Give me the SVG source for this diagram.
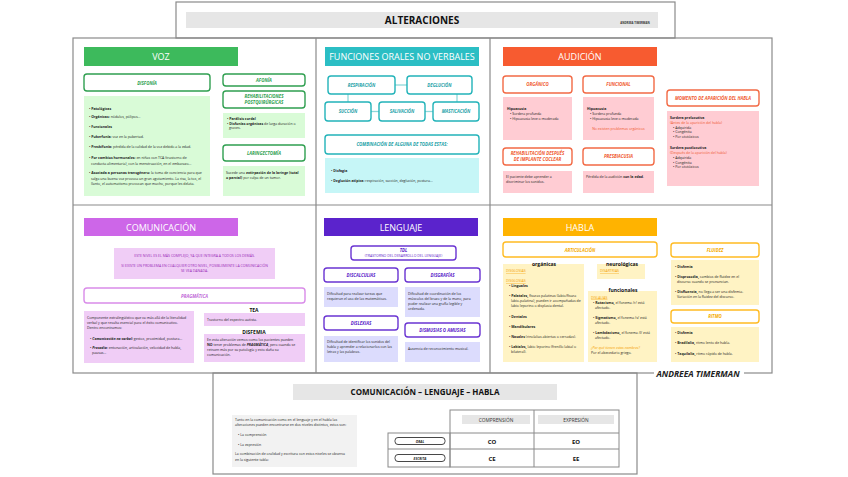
<svg xmlns="http://www.w3.org/2000/svg" width="848" height="477" viewBox="0 0 848 477">
<style>
text{font-family:"Open Sans","Liberation Sans",sans-serif}
.frame{fill:none;stroke:#8a8a8a;stroke-width:1.2}
.hd{fill:#fff;font-size:9px;text-anchor:middle}
.lb{font-size:4.4px;font-weight:bold;font-style:italic;text-anchor:middle}
.t{font-size:3.5px;fill:#222}
.b{font-weight:bold}
.c{text-anchor:middle}
.box{fill:#fff;stroke-width:1.4}
.g{stroke:#2f9f50}.gf{fill:#2f9f50}.gc{fill:#d9fbd7}
.tl{stroke:#22b3b9}.tlf{fill:#1ea2a8}.tlc{fill:#c6f6f7}
.o{stroke:#f26a45}.of{fill:#f05a30}.oc{fill:#ffccd3}
.p{stroke:#d98ce9}.pf{fill:#c16ad8}.pc{fill:#f0cdf6}
.v{stroke:#6a34d2}.vf{fill:#5b24c9}.vc{fill:#dcdcfd}
.y{stroke:#ffbb22}.yf{fill:#f5ab00}.yc{fill:#fff3c4}
.u{text-decoration:underline}
.conn{stroke:#8fd8da;stroke-width:1.3;fill:none}
</style>

<g id="title">
<rect x="176" y="2" width="499" height="36" fill="#fff" class="frame"/>
<rect x="186" y="12" width="472" height="16" fill="#e6e6e6"/>
<text x="422" y="24" font-size="10" font-weight="bold" text-anchor="middle" fill="#111">ALTERACIONES</text>
<text x="635" y="24" font-size="2.8" font-weight="bold" text-anchor="middle" fill="#333">ANDREEA TIMERMAN</text>
</g>

<g id="frame">
<rect x="73" y="38" width="699" height="335" class="frame"/>
<line x1="316" y1="38" x2="316" y2="373" class="frame"/>
<line x1="490" y1="38" x2="490" y2="373" class="frame"/>
<line x1="73" y1="205" x2="772" y2="205" class="frame"/>
<rect x="654" y="368" width="90" height="10" fill="#fff"/>
<text x="698" y="376.5" font-size="8.5" font-weight="bold" font-style="italic" text-anchor="middle" fill="#222">ANDREEA TIMERMAN</text>
</g>

<!-- VOZ -->
<g id="voz">
<rect x="84" y="47" width="154" height="19" fill="#3dba5c"/>
<text x="161" y="60" class="hd">VOZ</text>
<rect x="84" y="74" width="126" height="17" rx="3" class="box g"/>
<text x="147" y="84.5" class="lb gf">DISFONÍA</text>
<rect x="84" y="96" width="126" height="100" class="gc"/>
<text class="t" x="89" y="110">• <tspan class="b">Patológicas</tspan></text>
<text class="t" x="89" y="118">• <tspan class="b">Orgánicas:</tspan> nódulos, pólipos...</text>
<text class="t" x="89" y="128">• <tspan class="b">Funcionales</tspan></text>
<text class="t" x="89" y="138">• <tspan class="b">Puberfonía:</tspan> voz en la pubertad.</text>
<text class="t" x="89" y="148">• <tspan class="b">Presbifonía:</tspan> pérdida de la calidad de la voz debido a la edad.</text>
<text class="t" x="89" y="159">• <tspan class="b">Por cambios hormonales:</tspan> en niñas con TCA (trastorno de</text>
<text class="t" x="91" y="164.5">conducta alimentaria), con la menstruación, en el embarazo...</text>
<text class="t" x="89" y="174">• <tspan class="b">Asociada a personas transgénero:</tspan> la toma de conciencia para que</text>
<text class="t" x="91" y="179.5">salga una buena voz provoca un gran agotamiento. La risa, la tos, el</text>
<text class="t" x="91" y="185">llanto, el automatismo provocan que mucho, porque les delata.</text>

<rect x="223" y="74" width="82" height="12" rx="3" class="box g"/>
<text x="264" y="81.5" class="lb gf">AFONÍA</text>
<rect x="223" y="91" width="82" height="17" rx="3" class="box g"/>
<text x="264" y="97.8" class="lb gf">REHABILITACIONES</text>
<text x="264" y="103.8" class="lb gf">POSTQUIRÚRGICAS</text>
<rect x="223" y="113" width="82" height="25" class="gc"/>
<text class="t" x="227" y="119.5">• <tspan class="b">Parálisis cordal</tspan></text>
<text class="t" x="227" y="124.5">• <tspan class="b">Disfonías orgánicas</tspan> de larga duración o</text>
<text class="t" x="229" y="129">graves.</text>
<rect x="223" y="145" width="82" height="16" rx="3" class="box g"/>
<text x="264" y="154.5" class="lb gf">LARINGECTOMÍA</text>
<rect x="223" y="166" width="82" height="30" class="gc"/>
<text class="t" x="226" y="174">Sucede una <tspan class="b">extirpación de la laringe (total</tspan></text>
<text class="t" x="226" y="178.5"><tspan class="b">o parcial)</tspan> por culpa de un tumor.</text>
</g>

<!-- FUNCIONES ORALES -->
<g id="connectors">
<line x1="395" y1="85" x2="407" y2="85" class="conn"/>
<line x1="348" y1="94" x2="348" y2="102" class="conn"/>
<line x1="457" y1="94" x2="457" y2="102" class="conn"/>
<line x1="371" y1="111.5" x2="379" y2="111.5" class="conn"/>
<line x1="425" y1="111.5" x2="433" y2="111.5" class="conn"/>
</g>
<g id="funciones">
<rect x="325" y="47" width="154" height="19" fill="#2bbec4"/>
<text x="402" y="59.5" class="hd" font-size="7.8">FUNCIONES ORALES NO VERBALES</text>
<rect x="328" y="76" width="67" height="18" rx="3" class="box tl"/>
<text x="361.5" y="86.5" class="lb tlf" font-size="4">RESPIRACIÓN</text>
<rect x="407" y="76" width="65" height="18" rx="3" class="box tl"/>
<text x="439.5" y="86.5" class="lb tlf" font-size="4">DEGLUCIÓN</text>
<rect x="325" y="102" width="46" height="19" rx="3" class="box tl"/>
<text x="348" y="113" class="lb tlf" font-size="4">SUCCIÓN</text>
<rect x="379" y="102" width="46" height="19" rx="3" class="box tl"/>
<text x="402" y="113" class="lb tlf" font-size="4">SALIVACIÓN</text>
<rect x="433" y="102" width="46" height="19" rx="3" class="box tl"/>
<text x="456" y="113" class="lb tlf" font-size="4">MASTICACIÓN</text>
<rect x="325" y="135" width="154" height="19" rx="3" class="box tl"/>
<text x="402" y="146" class="lb tlf" font-size="4.2">COMBINACIÓN DE ALGUNA DE TODAS ESTAS:</text>
<rect x="325" y="158" width="154" height="35" class="tlc"/>
<text class="t" x="331" y="171.5">• <tspan class="b">Disfagia</tspan></text>
<text class="t" x="331" y="181.5">• <tspan class="b">Deglución atípica:</tspan> respiración, succión, deglución, postura...</text>
</g>

<!-- AUDICION -->
<g id="audicion">
<rect x="503" y="47" width="154" height="19" fill="#f75b30"/>
<text x="580" y="60" class="hd">AUDICIÓN</text>
<rect x="503" y="76" width="69" height="17" rx="3" class="box o"/>
<text x="537.5" y="86" class="lb of" font-style="normal">ORGÁNICO</text>
<rect x="583" y="76" width="71" height="17" rx="3" class="box o"/>
<text x="618.5" y="86" class="lb of">FUNCIONAL</text>
<rect x="503" y="97" width="69" height="43" class="oc"/>
<text class="t b" x="507" y="110">Hipoacusia</text>
<text class="t" x="510" y="115">• Sordera profunda</text>
<text class="t" x="510" y="119.5">• Hipoacusia leve o moderada</text>
<rect x="583" y="97" width="71" height="43" class="oc"/>
<text class="t b" x="587" y="110">Hipoacusia</text>
<text class="t" x="590" y="115">• Sordera profunda</text>
<text class="t" x="590" y="119.5">• Hipoacusia leve o moderada</text>
<text class="t c" x="618.5" y="130" fill="#f05a30" style="fill:#f05a30">No existen problemas orgánicos</text>
<rect x="503" y="148" width="69" height="17" rx="3" class="box o"/>
<text x="537.5" y="154.5" class="lb of" font-size="4.1">REHABILITACIÓN DESPUÉS</text>
<text x="537.5" y="160.5" class="lb of" font-size="4.1">DE IMPLANTE COCLEAR</text>
<rect x="583" y="148" width="71" height="17" rx="3" class="box o"/>
<text x="618.5" y="158" class="lb of" font-style="normal">PRESBIACUSIA</text>
<rect x="503" y="171" width="69" height="22" class="oc"/>
<text class="t" x="506" y="178">El paciente debe aprender a</text>
<text class="t" x="506" y="183">discriminar los sonidos.</text>
<rect x="583" y="171" width="71" height="22" class="oc"/>
<text class="t" x="586" y="178">Pérdida de la audición <tspan class="b">con la edad</tspan>.</text>
<rect x="667" y="90" width="92" height="16" rx="3" class="box o"/>
<text x="713" y="99.5" class="lb of" font-size="4.3">MOMENTO DE APARICIÓN DEL HABLA</text>
<rect x="667" y="111" width="92" height="75" class="oc"/>
<text class="t b" x="670" y="118.5">Sordera prelocutiva</text>
<text class="t" x="670" y="123.5" style="fill:#f05a30">(Antes de la aparición del habla)</text>
<text class="t" x="673" y="128.5">• Adquirida</text>
<text class="t" x="673" y="133">• Congénita</text>
<text class="t" x="673" y="137.5">• Por ototóxicos</text>
<text class="t b" x="670" y="149">Sordera postlocutiva</text>
<text class="t" x="670" y="154" style="fill:#f05a30">(Después de la aparición del habla)</text>
<text class="t" x="673" y="159">• Adquirida</text>
<text class="t" x="673" y="163.5">• Congénita</text>
<text class="t" x="673" y="168">• Por ototóxicos</text>
</g>

<!-- COMUNICACION -->
<g id="comunicacion">
<rect x="84" y="218" width="154" height="18" fill="#cd66e8"/>
<text x="161" y="230.5" class="hd">COMUNICACIÓN</text>
<rect x="114" y="248" width="161" height="31" class="pc"/>
<text class="t c" x="194.5" y="256.5" style="fill:#9a2cb8" font-size="3.3">ESTE NIVEL ES EL MÁS COMPLEJO, YA QUE INTEGRA A TODOS LOS DEMÁS.</text>
<text class="t c" x="194.5" y="266.5" style="fill:#9a2cb8" font-size="3.3">SI EXISTE UN PROBLEMA EN CUALQUIER OTRO NIVEL, POSIBLEMENTE LA COMUNICACIÓN</text>
<text class="t c" x="194.5" y="271.5" style="fill:#9a2cb8" font-size="3.3">SE VEA DAÑADA.</text>
<rect x="84" y="288" width="221" height="15" rx="3" class="box p"/>
<text x="194.5" y="297.5" class="lb pf" font-style="normal" font-weight="normal" font-size="4.6">PRAGMÁTICA</text>
<rect x="84" y="311" width="110" height="52" class="pc"/>
<text class="t" x="87" y="318.5">Componente extralingüístico que va más allá de la literalidad</text>
<text class="t" x="87" y="323.5">verbal y que resulta esencial para el éxito comunicativo.</text>
<text class="t" x="87" y="328.5">Dentro encontramos:</text>
<text class="t" x="90" y="339.5">• <tspan class="b" font-style="italic">Comunicación no verbal:</tspan> gestos, proximidad, postura...</text>
<text class="t" x="90" y="348.5">• <tspan class="b" font-style="italic">Prosodia:</tspan> entonación, articulación, velocidad de habla,</text>
<text class="t" x="92" y="353.5">pausas...</text>
<text x="254" y="312" font-size="5" font-weight="bold" text-anchor="middle" fill="#111">TEA</text>
<rect x="204" y="313" width="101" height="13" class="pc"/>
<text class="t" x="207" y="320.5">Trastorno del espectro autista.</text>
<text x="254" y="333.5" font-size="5" font-weight="bold" text-anchor="middle" fill="#111">DISFEMIA</text>
<rect x="204" y="334" width="101" height="28" class="pc"/>
<text class="t" x="207" y="340.5">En esta alteración vemos como los pacientes pueden</text>
<text class="t" x="207" y="345.5"><tspan class="b">NO</tspan> tener problemas de <tspan class="b" font-style="italic">PRAGMÁTICA</tspan>, pero cuando se</text>
<text class="t" x="207" y="350.5">retraen más por su patología y esto daña su</text>
<text class="t" x="207" y="355.5">comunicación.</text>
</g>

<!-- LENGUAJE -->
<g id="lenguaje">
<rect x="324" y="218" width="154" height="18" fill="#5b23cc"/>
<text x="401" y="230.5" class="hd">LENGUAJE</text>
<rect x="351" y="246" width="105" height="14" rx="3" class="box v" stroke-width="1"/>
<text x="403.5" y="251.5" class="lb vf" font-style="normal" font-size="4.2">TDL</text>
<text x="403.5" y="257" class="t c" style="fill:#5b24c9" font-size="3">(TRASTORNO DEL DESARROLLO DEL LENGUAJE)</text>
<rect x="324" y="268" width="74" height="14" rx="3" class="box v"/>
<text x="361" y="276.5" class="lb vf">DISCALCULIAS</text>
<rect x="405" y="268" width="75" height="14" rx="3" class="box v"/>
<text x="442.5" y="276.5" class="lb vf">DISGRAFÍAS</text>
<rect x="324" y="287" width="74" height="20" class="vc"/>
<text class="t" x="327" y="294.5">Dificultad para realizar tareas que</text>
<text class="t" x="327" y="299.5">requieran el uso de las matemáticas.</text>
<rect x="405" y="287" width="75" height="30" class="vc"/>
<text class="t" x="408" y="294.5">Dificultad de coordinación de los</text>
<text class="t" x="408" y="299.5">músculos del brazo y de la mano, para</text>
<text class="t" x="408" y="304.5">poder realizar una grafía legible y</text>
<text class="t" x="408" y="309.5">ordenada.</text>
<rect x="324" y="316" width="74" height="14" rx="3" class="box v"/>
<text x="361" y="324.5" class="lb vf">DISLEXIAS</text>
<rect x="405" y="323" width="75" height="14" rx="3" class="box v"/>
<text x="442.5" y="331.5" class="lb vf">DISMUSIAS O AMUSIAS</text>
<rect x="324" y="336" width="74" height="26" class="vc"/>
<text class="t" x="327" y="343">Dificultad de identificar los sonidos del</text>
<text class="t" x="327" y="348">habla y aprender a relacionarlos con las</text>
<text class="t" x="327" y="353">letras y las palabras.</text>
<rect x="405" y="342" width="75" height="20" class="vc"/>
<text class="t" x="408" y="350">Ausencia de reconocimiento musical.</text>
</g>

<!-- HABLA -->
<g id="habla">
<rect x="503" y="218" width="154" height="18" fill="#ffb300"/>
<text x="580" y="230.5" class="hd">HABLA</text>
<rect x="503" y="242" width="154" height="15" rx="3" class="box y"/>
<text x="580" y="251.5" class="lb yf" font-weight="normal">ARTICULACIÓN</text>
<rect x="503" y="264" width="81" height="98" class="yc"/>
<text x="544" y="266" font-size="5" font-weight="bold" text-anchor="middle" fill="#111">orgánicas</text>
<text class="t u" x="506" y="272" style="fill:#f5a000">DISGLOSIAS</text>
<text class="t u" x="506" y="282" style="fill:#f5a000">DISGLOSIAS</text>
<text class="t" x="509" y="287">• <tspan class="b">Linguales</tspan></text>
<text class="t" x="509" y="296.5">• <tspan class="b">Palatales,</tspan> fisuras palatinas (labio/fisura</text>
<text class="t" x="511" y="301.5">labio-palatina), pueden ir acompañadas de</text>
<text class="t" x="511" y="306.5">labio leporino o displasia dental.</text>
<text class="t" x="509" y="317.5">• <tspan class="b">Dentales</tspan></text>
<text class="t" x="509" y="327.5">• <tspan class="b">Mandibulares</tspan></text>
<text class="t" x="509" y="338">• <tspan class="b">Nasales</tspan> (rinolalias abiertas o cerradas).</text>
<text class="t" x="509" y="348">• <tspan class="b">Labiales,</tspan> labio leporino (frenillo labial o</text>
<text class="t" x="511" y="353">bilateral).</text>
<rect x="597" y="264" width="48" height="15" class="yc"/>
<text x="622" y="266" font-size="5" font-weight="bold" text-anchor="middle" fill="#111">neurológicas</text>
<text class="t u" x="600" y="272" style="fill:#f5a000">DISARTRIAS</text>
<rect x="588" y="291" width="69" height="71" class="yc"/>
<text x="623" y="292" font-size="5" font-weight="bold" text-anchor="middle" fill="#111">funcionales</text>
<text class="t u" x="591" y="298.5" style="fill:#f5a000">DISLALIAS</text>
<text class="t" x="593" y="303.5">• <tspan class="b">Rotacismo,</tspan> el fonema /r/ está</text>
<text class="t" x="595" y="308.5">afectado.</text>
<text class="t" x="593" y="319">• <tspan class="b">Sigmatismo,</tspan> el fonema /s/ está</text>
<text class="t" x="595" y="324">afectado.</text>
<text class="t" x="593" y="333.5">• <tspan class="b">Lambdacismo,</tspan> el fonema /l/ está</text>
<text class="t" x="595" y="338.5">afectado.</text>
<text class="t" x="591" y="348.5" style="fill:#f5a000;font-style:italic">¿Por qué tienen estos nombres?</text>
<text class="t" x="591" y="353.5">Por el abecedario griego.</text>
<rect x="671" y="243" width="88" height="14" rx="3" class="box y"/>
<text x="715" y="251.5" class="lb yf" font-weight="normal">FLUIDEZ</text>
<rect x="671" y="260" width="88" height="45" class="yc"/>
<text class="t" x="675" y="267.5">• <tspan class="b">Disfemia</tspan></text>
<text class="t" x="675" y="277.5">• <tspan class="b">Disprosodia,</tspan> cambios de fluidez en el</text>
<text class="t" x="677" y="282.5">discurso cuando se pronuncian.</text>
<text class="t" x="675" y="292.5">• <tspan class="b">Disfluencia,</tspan> no llega a ser una disfemia.</text>
<text class="t" x="677" y="297.5">Variación en la fluidez del discurso.</text>
<rect x="671" y="310" width="88" height="13" rx="3" class="box y"/>
<text x="715" y="318" class="lb yf" font-weight="normal">RITMO</text>
<rect x="671" y="327" width="88" height="35" class="yc"/>
<text class="t" x="675" y="334">• <tspan class="b">Disfemia</tspan></text>
<text class="t" x="675" y="344">• <tspan class="b">Bradilalia,</tspan> ritmo lento de habla.</text>
<text class="t" x="675" y="354.5">• <tspan class="b">Taquilalia,</tspan> ritmo rápido de habla.</text>
</g>

<!-- BOTTOM -->
<g id="resumen">
<rect x="213" y="373" width="424" height="101" fill="#fff" class="frame"/>
<rect x="293" y="384" width="264" height="16" fill="#e6e6e6"/>
<text x="425" y="395" font-size="8" font-weight="bold" text-anchor="middle" fill="#111">COMUNICACIÓN – LENGUAJE – HABLA</text>
<rect x="232" y="415" width="125" height="52" fill="#f2f2f2"/>
<text class="t" x="235" y="420.5">Tanto en la comunicación como en el lenguaje y en el habla las</text>
<text class="t" x="235" y="426">alteraciones pueden encontrarse en dos niveles distintos, estos son:</text>
<text class="t" x="238" y="435.5">• La comprensión</text>
<text class="t" x="238" y="445.5">• La expresión</text>
<text class="t" x="235" y="455">La combinación de oralidad y escritura con estos niveles se observa</text>
<text class="t" x="235" y="460.5">en la siguiente tabla:</text>
<g fill="none" stroke="#8a8a8a" stroke-width="1">
<rect x="450" y="410" width="169" height="57"/>
<rect x="388" y="433" width="62" height="34"/>
<line x1="388" y1="449" x2="619" y2="449"/>
<line x1="450" y1="433" x2="619" y2="433"/>
<line x1="534" y1="410" x2="534" y2="467"/>
</g>
<rect x="462" y="415" width="68" height="9" fill="#e6e6e6"/>
<text x="496" y="421.5" font-size="4.8" text-anchor="middle" fill="#333">COMPRENSIÓN</text>
<rect x="538" y="415" width="76" height="9" fill="#e6e6e6"/>
<text x="576" y="421.5" font-size="4.8" text-anchor="middle" fill="#333">EXPRESIÓN</text>
<rect x="395" y="437.5" width="50" height="7" rx="3" fill="#fff" stroke="#333" stroke-width="0.9"/>
<text x="420" y="442.5" font-size="3.4" font-weight="bold" font-style="italic" text-anchor="middle" fill="#222">ORAL</text>
<rect x="395" y="454.5" width="50" height="7" rx="3" fill="#fff" stroke="#333" stroke-width="0.9"/>
<text x="420" y="459.5" font-size="3.4" font-weight="bold" font-style="italic" text-anchor="middle" fill="#222">ESCRITA</text>
<text x="492" y="443.5" font-size="6" font-weight="bold" text-anchor="middle" fill="#111">CO</text>
<text x="576" y="443.5" font-size="6" font-weight="bold" text-anchor="middle" fill="#111">EO</text>
<text x="492" y="460.5" font-size="6" font-weight="bold" text-anchor="middle" fill="#111">CE</text>
<text x="576" y="460.5" font-size="6" font-weight="bold" text-anchor="middle" fill="#111">EE</text>
</g>
</svg>
